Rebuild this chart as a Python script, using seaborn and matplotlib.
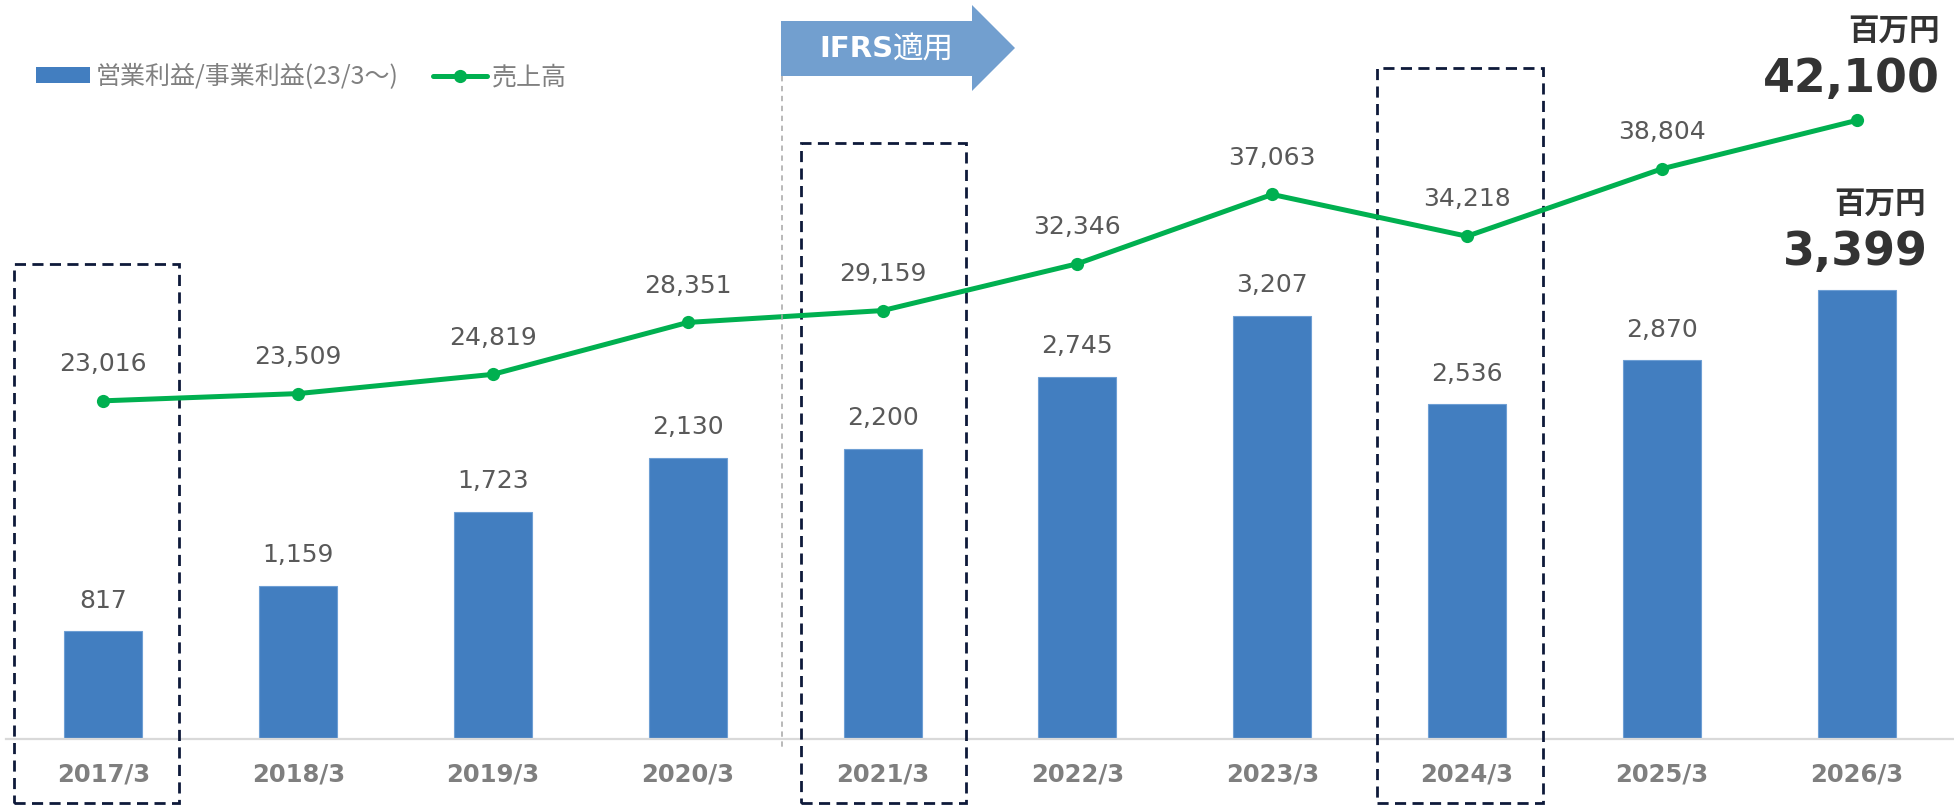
import numpy as np
import pandas as pd
import matplotlib
matplotlib.use("Agg")
import matplotlib.pyplot as plt
from matplotlib.patches import Rectangle, Polygon, Patch
from matplotlib.lines import Line2D
from matplotlib.transforms import blended_transform_factory
import seaborn as sns

# ---- data ----
years = ["2017/3", "2018/3", "2019/3", "2020/3", "2021/3",
         "2022/3", "2023/3", "2024/3", "2025/3", "2026/3"]
operating_profit = [817, 1159, 1723, 2130, 2200, 2745, 3207, 2536, 2870, 3399]
net_sales = [23016, 23509, 24819, 28351, 29159, 32346, 37063, 34218, 38804, 42100]
profit_label = "営業利益/事業利益(23/3～)"
sales_label = "売上高"
unit_label = "百万円"
ifrs_label = ("IFRS", "適用")
highlighted = ["2017/3", "2021/3", "2024/3"]

BAR_COLOR = "#427EC0"
LINE_COLOR = "#00B050"
LABEL_COLOR = "#595959"
TICK_COLOR = "#7F7F7F"
BOX_COLOR = "#0E1A3A"
ARROW_COLOR = "#729FCF"
CJK = ["Noto Sans CJK JP", "DejaVu Sans"]

sns.set_theme(style="white")
plt.rcParams["font.family"] = ["DejaVu Sans", "Noto Sans CJK JP"]

W, H = 1954, 806
fig = plt.figure(figsize=(W / 100, H / 100), dpi=100)
ax = fig.add_axes([6 / W, 1 - 739 / H, 1948 / W, 739 / H])


def fpx(x, y):
    """Figure-pixel position (top-left origin) to figure fraction."""
    return (x / W, 1 - y / H)


df = pd.DataFrame({"year": years, "profit": operating_profit, "sales": net_sales})

# ---- bars: operating profit ----
sns.barplot(data=df, x="year", y="profit", color=BAR_COLOR, saturation=1,
            width=0.4, ax=ax, edgecolor="#6E9FD4", linewidth=0.8)
ax.set_ylim(0, 5600)
ax.set_xlim(-0.5, len(years) - 0.5)

# ---- line: net sales ----
ax2 = ax.twinx()
idx = np.arange(len(years))
sns.lineplot(x=idx, y=df["sales"], ax=ax2, color=LINE_COLOR, linewidth=3.6,
             marker="o", markersize=9.5, markeredgewidth=0, zorder=5)
ax2.set_ylim(0, 50296)
ax2.set_xlim(-0.5, len(years) - 0.5)

for a in (ax, ax2):
    a.set_ylabel("")
    a.set_xlabel("")
    a.set_yticks([])
    for s in ("top", "left", "right", "bottom"):
        a.spines[s].set_visible(False)
ax.spines["bottom"].set_visible(True)
ax.spines["bottom"].set_color("#D9D9D9")
ax.spines["bottom"].set_linewidth(1.6)
ax.tick_params(axis="x", length=0, pad=17)
for lbl in ax.get_xticklabels():
    lbl.set_fontsize(17.5)
    lbl.set_fontweight("bold")
    lbl.set_color(TICK_COLOR)

# ---- value labels ----
last = len(years) - 1
for i, v in enumerate(operating_profit[:-1]):
    ax.annotate(f"{v:,}", (i, v), xytext=(0, 22), textcoords="offset points",
                ha="center", va="center", fontsize=18, color=LABEL_COLOR)
for i, v in enumerate(net_sales[:-1]):
    ax2.annotate(f"{v:,}", (i, v), xytext=(0, 26.5), textcoords="offset points",
                 ha="center", va="center", fontsize=18, color=LABEL_COLOR, zorder=6)

# headline values for the final year
ax2.annotate(f"{net_sales[last]:,}", (last, net_sales[last]), xytext=(-4, 29.5),
             textcoords="offset points", ha="center", va="center",
             fontsize=33, fontweight="bold", color="#333333")
ax2.annotate(unit_label, (last, net_sales[last]), xytext=(60, 64.5),
             textcoords="offset points", ha="right", va="center",
             fontsize=22, fontweight="bold", color="#333333", family=CJK)
ax.annotate(f"{operating_profit[last]:,}", (last, operating_profit[last]),
            xytext=(-1, 27.5), textcoords="offset points", ha="center", va="center",
            fontsize=33, fontweight="bold", color="#333333")
ax.annotate(unit_label, (last, operating_profit[last]), xytext=(50, 62.5),
            textcoords="offset points", ha="right", va="center",
            fontsize=22, fontweight="bold", color="#333333", family=CJK)

# ---- dashed highlight boxes ----
box_spans = {"2017/3": (-0.46, 0.39, 0.643),
             "2021/3": (-0.42, 0.43, 0.806),
             "2024/3": (-0.46, 0.39, 0.908)}
btrans = blended_transform_factory(ax.transData, ax.transAxes)
for y in highlighted:
    i = years.index(y)
    left, right, top = box_spans[y]
    bottom = -0.0866
    ax.add_patch(Rectangle((i + left, bottom), right - left, top - bottom,
                           transform=btrans, fill=False, edgecolor=BOX_COLOR,
                           linewidth=2.0, linestyle=(0, (4, 2.3)), clip_on=False,
                           zorder=10))

# ---- IFRS transition marker ----
arrow_pts = [fpx(781, 21), fpx(972, 21), fpx(972, 5), fpx(1015, 48),
             fpx(972, 91), fpx(972, 76), fpx(781, 76)]
fig.add_artist(Polygon(arrow_pts, closed=True, transform=fig.transFigure,
                       facecolor=ARROW_COLOR, edgecolor="none"))
x0, y0 = fpx(782, 76)
x1, y1 = fpx(782, 751)
fig.add_artist(Line2D([x0, x1], [y0, y1], transform=fig.transFigure,
                      color="#A6A6A6", linewidth=1.1, linestyle=(0, (3.5, 3))))
tx, ty = fpx(893, 49)
fig.text(tx, ty, ifrs_label[0], ha="right", va="center", fontsize=21,
         fontweight="bold", color="white")
fig.text(tx, ty, ifrs_label[1], ha="left", va="center", fontsize=22,
         color="white", family=CJK)

# ---- legend ----
handles = [Patch(facecolor=BAR_COLOR, edgecolor="none"),
           Line2D([0], [0], color=LINE_COLOR, linewidth=3.6, marker="o",
                  markersize=9.5, markeredgewidth=0)]
fig.legend(handles, [profit_label, sales_label], loc="center left",
           bbox_to_anchor=fpx(36, 77), ncol=2, frameon=False, borderpad=0,
           borderaxespad=0, handlelength=2.15, handleheight=0.6,
           handletextpad=0.22, columnspacing=1.4, labelcolor="#808080",
           prop={"family": CJK, "size": 18})

fig.savefig("out.png", dpi=100)
